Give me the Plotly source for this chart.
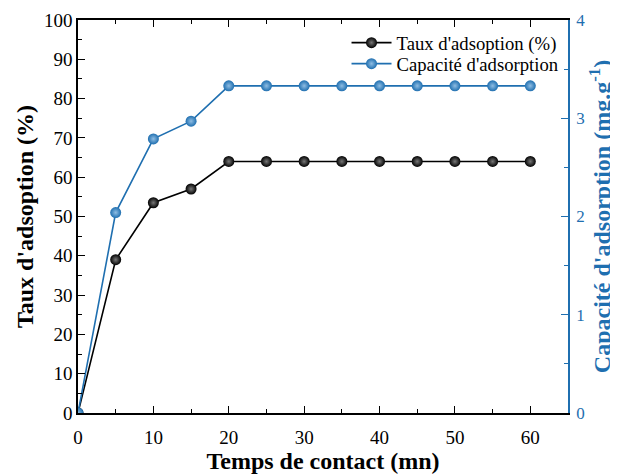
import plotly.graph_objects as go

temps = [0, 5, 10, 15, 20, 25, 30, 35, 40, 45, 50, 55, 60]
taux = [0, 39, 53.5, 57, 64, 64, 64, 64, 64, 64, 64, 64, 64]
capacite = [0, 2.04, 2.79, 2.97, 3.33, 3.33, 3.33, 3.33, 3.33, 3.33, 3.33, 3.33, 3.33]

BLUE = "#1f6fb0"
FONT = "Liberation Serif"

fig = go.Figure()
fig.add_trace(go.Scatter(
    x=temps, y=taux, name="Taux d'adsoption (%)", mode="lines+markers",
    line=dict(color="black", width=1.6), legend="legend",
    marker=dict(size=11, color="black", gradient=dict(type="radial", color="#777777"),
                line=dict(width=0)),
))
fig.add_trace(go.Scatter(
    x=temps, y=capacite, name="Capacité d'adsorption", mode="lines+markers", yaxis="y2",
    line=dict(color=BLUE, width=1.6), legend="legend2",
    marker=dict(size=11, color=BLUE, gradient=dict(type="radial", color="#8fbde3"),
                line=dict(width=0)),
))

leg = dict(xanchor="left", yanchor="middle", bgcolor="rgba(0,0,0,0)",
           font=dict(size=18.7, family=FONT), itemwidth=40)

fig.update_layout(
    width=610, height=466,
    margin=dict(l=70, r=50, t=12, b=61),
    plot_bgcolor="white", paper_bgcolor="white",
    font=dict(family=FONT, size=18, color="black"),
    showlegend=True,
    legend=dict(leg, x=0.548, y=0.9415),
    legend2=dict(leg, x=0.548, y=0.888),
    xaxis=dict(
        range=[0, 65], tickvals=[0, 10, 20, 30, 40, 50, 60], automargin=False,
        showgrid=False, zeroline=False,
        showline=True, linecolor="black", linewidth=1.5, mirror="ticks",
        ticks="inside", ticklen=7, tickwidth=1.2, tickcolor="black",
        minor=dict(dtick=5, ticks="inside", ticklen=4, tickcolor="black", tickwidth=1),
        title=dict(text="<b>Temps de contact (mn)</b>", font=dict(size=24, family=FONT), standoff=6),
        tickfont=dict(size=19, family=FONT), ticklabelstandoff=6,
    ),
    yaxis=dict(
        range=[0, 100], dtick=10, automargin=False,
        showgrid=False, zeroline=False,
        showline=True, linecolor="black", linewidth=1.5,
        ticks="inside", ticklen=7, tickwidth=1.2, tickcolor="black",
        minor=dict(dtick=5, ticks="inside", ticklen=4, tickcolor="black", tickwidth=1),
        title=dict(text="<b>Taux d'adsoption (%)</b>", font=dict(size=24, family=FONT), standoff=4),
        tickfont=dict(size=19, family=FONT),
    ),
    yaxis2=dict(
        overlaying="y", side="right", range=[0, 4], dtick=1, automargin=False,
        showgrid=False, zeroline=False,
        showline=True, linecolor=BLUE, linewidth=1.5,
        ticks="inside", ticklen=7, tickwidth=1.2, tickcolor=BLUE,
        minor=dict(dtick=0.5, ticks="inside", ticklen=4, tickcolor=BLUE, tickwidth=1),
        title=dict(text="<b>Capacité d'adsorption (mg.g<sup>-1</sup>)</b>",
                   font=dict(size=24, family=FONT, color=BLUE), standoff=9),
        tickfont=dict(size=17, family=FONT, color=BLUE), ticklabelstandoff=3,
    ),
)

fig.write_html("out.html")
